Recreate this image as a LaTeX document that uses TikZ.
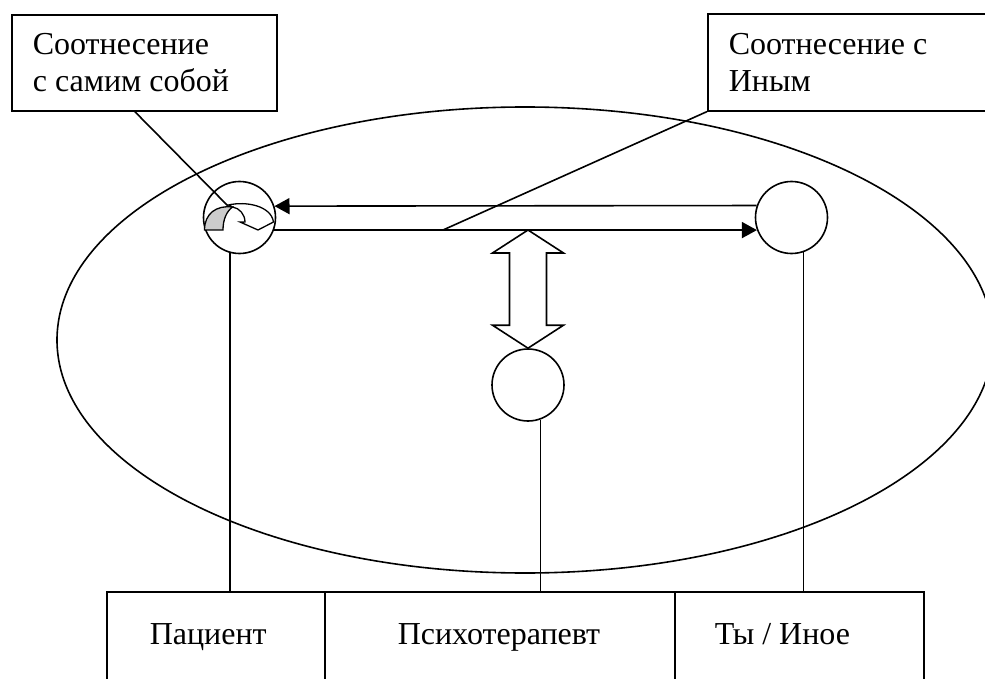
\documentclass[tikz,border=0pt]{standalone}
\usepackage{fontspec}
\setmainfont{Liberation Serif}
\usetikzlibrary{arrows.meta}
\begin{document}
\begin{tikzpicture}[x=1pt,y=-1pt,line width=1.6pt,
  box/.style={draw,rectangle,inner sep=0pt,anchor=north west},
  circ/.style={draw,circle,minimum size=72pt,inner sep=0pt,fill=white},
  lbl/.style={anchor=base west,inner sep=0pt,font=\fontsize{32}{37}\selectfont},
  arr/.style={-{Triangle[length=15pt,width=16pt]}},
  curv/.style={draw,line width=1.3pt,line join=miter}]
\useasboundingbox (0,0) rectangle (985,679);
% big ellipse
\draw (525,340) ellipse [x radius=468pt, y radius=233pt];
% top boxes
\node[box,minimum width=265pt,minimum height=96pt] (selfbox) at (11,14) {};
\node[lbl] (selft1) at (32,55) {Соотнесение};
\node[lbl] (selft2) at (32,92) {с самим собой};
\node[box,minimum width=300pt,minimum height=97pt] (othbox) at (707,13) {};
\node[lbl] (otht1) at (728,55) {Соотнесение с};
\node[lbl] (otht2) at (728,92) {Иным};
% bottom boxes
\node[box,minimum width=218pt,minimum height=120pt] (patbox) at (106,591) {};
\node[box,minimum width=350pt,minimum height=120pt] (therbox) at (324,591) {};
\node[box,minimum width=249pt,minimum height=120pt] (youbox) at (674,591) {};
\node[lbl] (patt) at (149,644) {Пациент};
\node[lbl] (thert) at (397,644) {Психотерапевт};
\node[lbl] (yout) at (714,644) {Ты / Иное};
% circles
\node[circ] (pat) at (239.5,217.5) {};
\node[circ] (oth) at (791.5,217.5) {};
\node[circ] (ther) at (528,385) {};
% horizontal arrows
\draw[arr] (oth.161.4) -- (pat.18.6);
\draw[arr] (pat.-20.3) -- (oth.200.3);
% double arrow
\coordinate (dtop) at (528,230);
\draw[fill=white,line join=miter]
  (dtop) -- ([shift={(-35.5,23)}]dtop) -- ([shift={(-18.5,23)}]dtop)
  -- ([shift={(-18.5,-23)}]ther.north) -- ([shift={(-35.5,-23)}]ther.north)
  -- (ther.north) -- ([shift={(35.5,-23)}]ther.north)
  -- ([shift={(18.5,-23)}]ther.north) -- ([shift={(18.5,23)}]dtop)
  -- ([shift={(35.5,23)}]dtop) -- cycle;
% curved arrow inside patient circle
\begin{scope}[shift={(pat.center)}]
  \path[curv,fill=white] (-11,-12.5) .. controls (6,-16.5) and (31.5,-12) .. (34,4.5)
    -- (18.5,12.5) -- (0.5,4.5) -- (5.5,4.5) .. controls (5.5,-3) and (0,-9.5) .. (-7,-10.5) -- cycle;
  \path[curv,fill=black!20] (-35,12.5) .. controls (-35,-4) and (-23,-12.5) .. (-7,-10.5)
    .. controls (-13,-6) and (-16.5,2) .. (-16.5,12.5) -- cycle;
\end{scope}
% leader lines
\coordinate (selfend) at (228,206);
\coordinate (othend) at (443,230);
\draw ([xshift=-9.5pt]selfbox.south) -- (selfend);
\draw (othbox.south west) -- (othend);
% vertical lines
\draw (pat.-105.3) -- (pat.-105.3 |- patbox.north);
\draw (ther.-70.5) -- (ther.-70.5 |- therbox.north);
\draw (oth.-71.4) -- (oth.-71.4 |- youbox.north);
\end{tikzpicture}
\end{document}
